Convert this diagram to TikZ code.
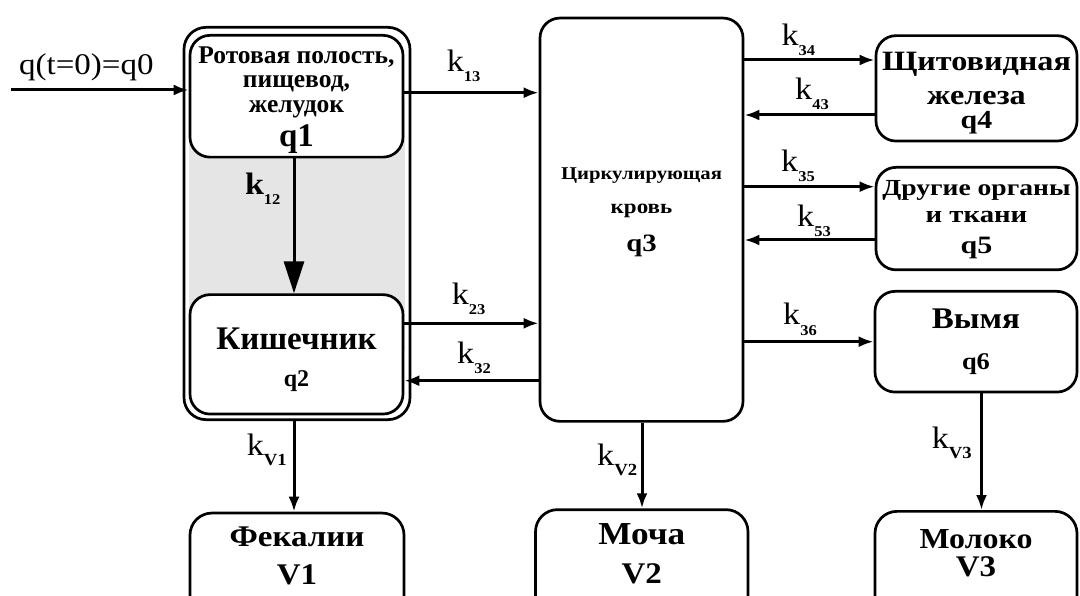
\documentclass[tikz,border=0pt]{standalone}
\usepackage{fontspec}
\setmainfont{Liberation Serif}
\newfontfamily\sA[FakeStretch=1.15]{Liberation Serif}
\newfontfamily\sB[FakeStretch=1.10]{Liberation Serif}
\newfontfamily\sC[FakeStretch=1.20]{Liberation Serif}
\usetikzlibrary{arrows.meta}
\newcommand\fsz[2]{\fontsize{#1}{#2}\selectfont}
\newcommand\tstr[1]{\rule{0pt}{#1pt}}
\newcommand\bstr[1]{\rule[-#1pt]{0pt}{0pt}}
\newcommand\kk[1]{k\raisebox{-10pt}{\fsz{15}{15}\bfseries #1}}
\newcommand\kv[1]{k\raisebox{-10pt}{\fsz{17}{17}\bfseries #1}}
\tikzset{
  box/.style={draw, line width=2.7pt, rounded corners=20pt, fill=white, inner sep=0pt, align=center, anchor=north},
  flow/.style={line width=3pt, -{Latex[length=15pt,width=11pt]}},
  bigflow/.style={line width=3pt, -{Triangle[length=32pt,width=20pt]}},
  klab/.style={inner sep=0pt, anchor=base west, font=\sB\fsz{31}{31}}
}
\begin{document}
\begin{tikzpicture}[x=1pt,y=-1pt]
\clip (0,0) rectangle (1080,596);
\fill[white] (0,0) rectangle (1080,596);
% outer group
\node[box, rounded corners=22pt, minimum width=226pt, minimum height=392.3pt] (outer) at (297,26) {};
\fill[black!10] (189,100) rectangle (405,350);
\node[box, minimum width=213pt, font=\bfseries\fsz{25.5}{24.8}] (q1) at (296.5,34)
  {\tstr{27.7}Ротовая полость,\\ пищевод,\\ желудок\\[5.2pt] \fsz{33}{33}q1\bstr{11}};
\node[box, minimum width=213pt, font=\bfseries\fsz{33}{36.7}] (q2) at (296.5,293.3)
  {\tstr{55}Кишечник\\ \fsz{24}{24}q2\bstr{27.7}};
\node[box, minimum width=203pt, font=\sA\bfseries\fsz{18}{34}] (q3) at (641.5,16.7)
  {\tstr{161.3}Циркулирующая\\ \fsz{20}{20}кровь\\[4pt] \fsz{25}{25}q3\bstr{170}};
\node[box, minimum width=201pt, font=\sA\bfseries\fsz{28}{33.7}] (q4) at (976.5,34.3)
  {\tstr{34.7}Щитовидная\\ железа\\[-9.4pt] \fsz{26}{26}q4\bstr{12.7}};
\node[box, minimum width=201pt, font=\sC\bfseries\fsz{23}{26.7}] (q5) at (976.5,166)
  {\tstr{28.3}Другие органы\\ \fsz{24}{24}и ткани\\[4.6pt] \fsz{25}{25}q5\bstr{16.2}};
\node[box, minimum width=202pt, font=\sB\bfseries\fsz{30}{41}] (q6) at (976,290)
  {\tstr{37}Вымя\\ \fsz{24}{24}q6\bstr{22.7}};
\node[box, rounded corners=22pt, minimum width=214pt, font=\sB\bfseries\fsz{30}{38.3}] (v1) at (297,511.7)
  {\tstr{33.3}Фекалии\\ V1\bstr{36.7}};
\node[box, rounded corners=22pt, minimum width=212.5pt, font=\sB\bfseries\fsz{32}{38.4}] (v2) at (641.75,508.3)
  {\tstr{35}Моча\\ \fsz{30}{30}V2\bstr{38.3}};
\node[box, rounded corners=22pt, minimum width=202pt, font=\sB\bfseries\fsz{29}{28}] (v3) at (976,510)
  {\tstr{37}Молоко\\ \fsz{30}{30}V3\bstr{45}};
% helper points
\coordinate (in) at (11,90);
\coordinate (c12) at (294,0);
\coordinate (cv2) at (642,0);
\coordinate (cv3) at (981.5,0);
\coordinate (r13) at (0,92.7);
\coordinate (r23) at (0,323.3);
\coordinate (r32) at (0,380.7);
\coordinate (r34) at (0,60);
\coordinate (r43) at (0,115);
\coordinate (r35) at (0,186.7);
\coordinate (r53) at (0,240);
\coordinate (r36) at (0,341.7);
% connectors
\draw[flow] (in) -- (in -| q1.west);
\draw[flow] (q1.east |- r13) -- (q3.west |- r13);
\draw[bigflow] (c12 |- q1.south) -- (c12 |- q2.north);
\draw[flow] (q2.east |- r23) -- (q3.west |- r23);
\draw[flow] (q3.west |- r32) -- (q2.east |- r32);
\draw[flow] (q3.east |- r34) -- (q4.west |- r34);
\draw[flow] (q4.west |- r43) -- (q3.east |- r43);
\draw[flow] (q3.east |- r35) -- (q5.west |- r35);
\draw[flow] (q5.west |- r53) -- (q3.east |- r53);
\draw[flow] (q3.east |- r36) -- (q6.west |- r36);
\draw[flow] (c12 |- outer.south) -- (c12 |- v1.north);
\draw[flow] (cv2 |- q3.south) -- (cv2 |- v2.north);
\draw[flow] (cv3 |- q6.south) -- (cv3 |- v3.north);
% labels
\node[klab, font=\sB\fsz{30}{30}] (l0) at (19,75) {q(t=0)=q0};
\node[klab] (l13) at (446.6,71.7) {\kk{13}};
\node[klab, font=\sB\bfseries\fsz{31}{31}] (l12) at (244.8,195) {k\raisebox{-10pt}{\fsz{15}{15}12}};
\node[klab] (l23) at (451.7,305) {\kk{23}};
\node[klab] (l32) at (457,363.3) {\kk{32}};
\node[klab] (l34) at (781.4,46) {\kk{34}};
\node[klab] (l43) at (795,100) {\kk{43}};
\node[klab] (l35) at (781,171.7) {\kk{35}};
\node[klab] (l53) at (797,226.7) {\kk{53}};
\node[klab] (l36) at (783,325) {\kk{36}};
\node[klab] (lv1) at (246.6,455) {\kv{V1}};
\node[klab] (lv2) at (597,465) {\kv{V2}};
\node[klab] (lv3) at (931.7,448.3) {\kv{V3}};
\end{tikzpicture}
\end{document}
